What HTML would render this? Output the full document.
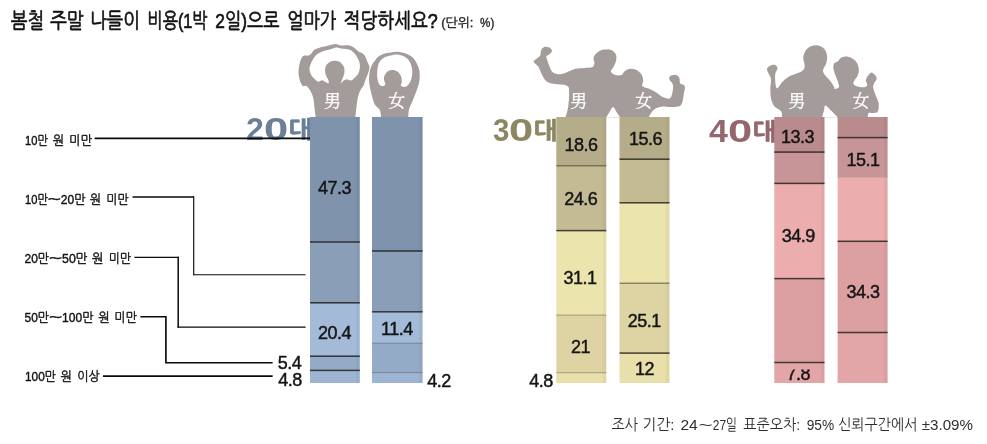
<!DOCTYPE html>
<html lang="ko"><head><meta charset="utf-8"><title>봄철 주말 나들이 비용</title>
<style>
html,body{margin:0;padding:0;background:#fff;}
body{width:987px;height:444px;overflow:hidden;position:relative;font-family:"Liberation Sans","NanumGothic","Noto Sans CJK KR",sans-serif;}
svg{position:absolute;left:0;top:0;display:block}
.num{font-family:"Liberation Sans",sans-serif;font-size:18px;fill:#151515;stroke:#151515;stroke-width:0.45px;letter-spacing:-0.5px;}
.mf{font-family:"Liberation Serif","Noto Serif CJK KR","Noto Serif CJK SC",serif;font-size:17px;fill:#fff;stroke:#fff;stroke-width:0.3px;}
.age{position:absolute;height:36px;width:70px;font-weight:bold;font-size:32px;line-height:36px;white-space:nowrap}
.age span{position:absolute;top:0;left:0;display:block;transform-origin:0 50%;}
.age .o{transform:scaleX(1.36);}
.age .k{top:1px;font-size:23.5px;font-weight:800;-webkit-text-stroke:0.4px currentColor;transform:scaleX(1.07);font-family:"Liberation Sans","NanumGothic","Noto Sans CJK KR",sans-serif;}
</style></head><body>
<div class="age" style="left:246.0px;top:110.5px;color:#6b7f97"><span class="d" style="transform:scaleX(1.00)">2</span><span class="o" style="left:17.6px">0</span><span class="k" style="left:43.0px">대</span></div>
<div class="age" style="left:492.5px;top:112.0px;color:#8b8762"><span class="d" style="transform:scaleX(0.92)">3</span><span class="o" style="left:16.0px">0</span><span class="k" style="left:41.5px">대</span></div>
<div class="age" style="left:709.0px;top:112.8px;color:#93676b"><span class="d" style="transform:scaleX(1.06)">4</span><span class="o" style="left:19.3px">0</span><span class="k" style="left:44.3px">대</span></div>
<svg width="987" height="444" viewBox="0 0 987 444">

<text y="28.3" font-size="21" fill="#111" stroke="#111" stroke-width="0.7" style="font-family:'Liberation Sans','NanumGothic','Noto Sans CJK KR',sans-serif"><tspan x="10.8" textLength="33.4" lengthAdjust="spacingAndGlyphs">봄철</tspan> <tspan x="49.9" textLength="33.8" lengthAdjust="spacingAndGlyphs">주말</tspan> <tspan x="89.9" textLength="50.0" lengthAdjust="spacingAndGlyphs">나들이</tspan> <tspan x="147.4" textLength="60.2" lengthAdjust="spacingAndGlyphs">비용(1박</tspan> <tspan x="215.3" textLength="64.2" lengthAdjust="spacingAndGlyphs">2일)으로</tspan> <tspan x="287.2" textLength="49.0" lengthAdjust="spacingAndGlyphs">얼마가</tspan> <tspan x="343.6" textLength="94.2" lengthAdjust="spacingAndGlyphs">적당하세요?</tspan></text>
<text y="26.7" font-size="12.5" fill="#222" stroke="#222" stroke-width="0.35" style="font-family:'Liberation Sans','NanumGothic','Noto Sans CJK KR',sans-serif"><tspan x="441.2" textLength="32.2" lengthAdjust="spacingAndGlyphs">(단위:</tspan> <tspan x="480.1" textLength="14.2" lengthAdjust="spacingAndGlyphs">%)</tspan></text>
<g fill="#a39c9a" stroke="none">
<path fill-rule="evenodd" d="M315.7,117.5 C315.5,115.9 314.9,111.1 314.5,108.0 C314.1,104.9 314.1,101.7 313.5,99.0 C312.9,96.3 312.2,94.2 311.0,92.0 C309.8,89.8 307.9,87.0 306.5,86.0 C305.1,85.0 303.9,86.9 302.8,86.0 C301.7,85.1 300.6,82.7 299.9,80.5 C299.2,78.3 298.6,75.3 298.5,72.7 C298.4,70.1 298.9,67.2 299.4,64.8 C299.9,62.3 300.8,59.5 301.6,58.0 C302.4,56.5 303.3,56.0 304.4,55.6 C305.5,55.2 307.2,56.0 308.4,55.6 C309.6,55.2 310.9,53.9 311.8,53.0 C312.7,52.1 312.5,51.1 314.0,50.1 C315.5,49.1 318.4,48.1 320.8,47.3 C323.2,46.5 326.3,46.0 328.7,45.4 C331.1,44.8 333.3,43.9 335.4,43.9 C337.5,43.9 339.0,45.1 341.3,45.4 C343.6,45.6 347.1,45.1 349.1,45.4 C351.2,45.7 352.1,46.3 353.6,47.3 C355.1,48.3 356.7,50.3 358.2,51.3 C359.7,52.3 361.5,52.6 362.7,53.5 C363.9,54.4 364.7,55.4 365.5,56.9 C366.3,58.4 367.1,60.8 367.7,62.5 C368.3,64.2 369.3,65.3 369.4,67.0 C369.5,68.7 368.9,70.8 368.3,72.7 C367.7,74.6 366.8,76.2 366.0,78.3 C365.2,80.3 364.7,83.0 363.8,85.0 C362.9,87.0 361.5,88.0 360.5,90.0 C359.5,92.0 358.7,94.2 358.0,97.0 C357.3,99.8 356.9,103.6 356.5,107.0 C356.1,110.4 355.6,115.8 355.4,117.5Z M336.5,47.6 C334.4,47.7 332.1,49.0 329.8,49.6 C327.6,50.2 325.1,50.5 323.0,51.3 C320.9,52.0 319.0,52.9 317.4,54.1 C315.8,55.3 314.6,56.9 313.5,58.6 C312.4,60.3 311.3,62.4 310.6,64.2 C309.9,66.0 309.4,67.5 309.5,69.3 C309.6,71.1 310.3,73.3 311.2,74.9 C312.1,76.5 313.4,77.8 314.6,78.9 C315.8,80.0 317.3,81.5 318.5,81.7 C319.7,81.9 320.7,80.2 321.9,80.3 C323.1,80.4 324.7,81.7 325.8,82.2 C326.9,82.7 328.3,83.7 328.7,83.2 C329.1,82.7 328.6,80.8 328.1,79.4 C327.6,78.0 326.3,76.6 325.8,74.9 C325.3,73.2 324.9,71.1 325.1,69.3 C325.3,67.5 326.0,65.5 327.0,64.2 C328.0,62.9 329.5,62.0 330.9,61.4 C332.3,60.8 333.8,60.6 335.4,60.8 C337.0,61.0 339.1,61.5 340.5,62.5 C341.9,63.5 343.2,65.3 343.9,67.0 C344.5,68.7 344.6,70.8 344.4,72.7 C344.2,74.6 343.3,76.5 342.7,78.3 C342.1,80.0 340.6,82.8 340.7,83.2 C340.8,83.6 342.5,81.5 343.5,80.8 C344.5,80.1 345.7,79.2 346.9,79.2 C348.1,79.2 349.6,80.7 350.8,80.5 C352.0,80.3 353.0,79.4 354.2,78.3 C355.4,77.2 357.3,75.5 358.2,73.8 C359.1,72.1 359.6,70.1 359.8,68.2 C360.0,66.3 360.0,64.4 359.5,62.5 C359.0,60.6 358.0,58.6 357.0,56.9 C356.0,55.2 354.9,53.6 353.6,52.4 C352.3,51.2 351.0,50.2 349.1,49.6 C347.2,49.0 344.5,49.1 342.4,48.8 C340.3,48.5 338.6,47.5 336.5,47.6Z"/>
<path fill-rule="evenodd" d="M381.1,117.5 C380.9,116.2 380.8,112.1 379.8,110.0 C378.8,107.9 376.3,107.0 375.1,105.0 C373.9,103.0 373.2,100.3 372.4,97.7 C371.6,95.1 370.9,92.3 370.4,89.6 C369.8,86.9 369.2,84.4 369.1,81.5 C369.0,78.6 369.2,74.7 369.7,72.0 C370.1,69.3 370.9,67.2 371.8,65.3 C372.7,63.4 374.0,62.0 375.1,60.5 C376.2,59.0 377.0,57.6 378.5,56.5 C380.0,55.4 381.9,54.5 383.9,53.8 C385.9,53.1 388.4,52.7 390.7,52.4 C392.9,52.1 395.1,51.7 397.4,51.8 C399.6,51.9 402.0,52.4 404.2,53.1 C406.4,53.8 408.6,54.8 410.3,55.8 C412.0,56.8 413.2,57.9 414.3,59.2 C415.4,60.6 416.2,62.2 417.0,63.9 C417.8,65.6 418.7,67.3 419.1,69.3 C419.6,71.3 419.7,73.8 419.7,76.1 C419.7,78.3 419.6,80.5 419.1,82.8 C418.7,85.0 417.8,87.3 417.0,89.6 C416.2,91.9 415.2,94.2 414.3,96.4 C413.4,98.7 412.5,100.9 411.6,103.1 C410.7,105.3 409.6,107.1 409.0,109.5 C408.4,111.9 408.3,116.2 408.2,117.5Z M397.4,54.5 C395.1,54.3 392.8,55.0 390.7,55.5 C388.6,56.0 386.3,56.4 384.6,57.2 C382.9,58.0 381.6,59.1 380.5,60.5 C379.4,61.9 378.8,63.4 378.2,65.3 C377.6,67.2 377.3,69.8 377.2,72.0 C377.1,74.2 377.1,76.8 377.4,78.8 C377.7,80.8 378.3,83.0 379.2,84.2 C380.1,85.4 381.6,86.2 382.6,86.2 C383.6,86.2 385.1,85.4 385.3,84.2 C385.5,83.0 383.9,80.5 383.9,78.8 C383.9,77.1 384.5,75.4 385.3,74.1 C386.1,72.8 387.2,71.4 388.6,70.7 C390.0,70.0 391.8,69.8 393.4,70.0 C395.0,70.2 396.8,70.9 398.1,72.0 C399.4,73.1 400.6,75.1 401.2,76.8 C401.8,78.5 401.9,80.8 401.8,82.2 C401.7,83.7 400.4,84.7 400.8,85.5 C401.2,86.3 403.0,87.0 404.2,86.9 C405.4,86.8 407.1,86.0 408.2,84.9 C409.3,83.8 410.2,82.0 410.9,80.1 C411.6,78.2 412.2,75.7 412.3,73.4 C412.4,71.2 412.2,68.8 411.6,66.6 C411.0,64.4 410.1,62.2 408.9,60.5 C407.7,58.8 406.1,57.5 404.2,56.5 C402.3,55.5 399.6,54.7 397.4,54.5Z"/>
<path d="M565.5,117.5 C566.0,115.7 567.6,110.9 568.2,106.7 C568.8,102.5 569.3,95.7 569.1,92.3 C569.0,88.8 569.6,87.3 567.3,85.9 C565.1,84.6 559.1,84.9 555.6,84.1 C552.2,83.4 548.9,82.9 546.6,81.4 C544.4,79.9 543.5,77.5 542.1,75.1 C540.8,72.7 539.9,69.3 538.5,67.0 C537.1,64.8 533.8,63.1 533.6,61.6 C533.5,60.1 536.5,59.1 537.6,58.0 C538.7,57.0 539.7,56.7 540.3,55.3 C540.9,54.0 540.5,51.3 541.2,49.9 C542.0,48.5 543.5,47.2 544.8,46.8 C546.2,46.5 548.1,46.9 549.3,47.6 C550.5,48.2 552.0,49.7 552.0,50.8 C552.0,52.0 550.3,53.5 549.3,54.4 C548.4,55.4 546.4,55.1 546.3,56.6 C546.1,58.1 547.5,60.9 548.4,63.4 C549.4,65.9 550.4,69.7 552.0,71.5 C553.7,73.3 555.9,74.1 558.3,74.2 C560.7,74.4 563.6,73.3 566.4,72.4 C569.3,71.5 572.4,69.6 575.5,68.8 C578.5,68.1 581.6,68.2 584.5,67.9 C587.3,67.6 590.9,67.9 592.6,67.0 C594.2,66.1 594.2,64.0 594.4,62.5 C594.5,61.0 593.2,59.5 593.5,58.0 C593.8,56.5 594.8,54.9 596.2,53.5 C597.5,52.2 599.5,50.6 601.6,49.9 C603.7,49.2 607.8,49.5 608.8,49.4 C609.7,49.2 606.6,48.8 607.2,49.0 C607.8,49.2 611.1,49.8 612.6,50.8 C614.1,51.9 615.7,53.5 616.2,55.3 C616.8,57.1 616.3,59.7 615.9,61.6 C615.4,63.6 614.4,65.4 613.5,67.0 C612.7,68.7 610.5,70.2 610.8,71.5 C611.1,72.9 613.5,74.5 615.3,75.1 C617.1,75.7 620.1,75.7 621.6,75.1 C623.1,74.5 623.0,72.6 624.3,71.5 C625.7,70.5 627.8,69.1 629.7,68.8 C631.7,68.5 634.1,68.8 636.0,69.7 C638.0,70.6 640.2,72.4 641.4,74.2 C642.6,76.0 643.1,78.6 643.2,80.5 C643.4,82.5 641.4,84.6 642.3,85.9 C643.2,87.3 646.4,87.6 648.6,88.6 C650.9,89.7 653.6,90.9 655.9,92.3 C658.1,93.6 659.9,95.7 662.2,96.8 C664.4,97.8 667.7,99.0 669.4,98.6 C671.0,98.1 671.5,96.3 672.1,94.1 C672.7,91.8 673.4,87.4 673.0,85.0 C672.5,82.6 669.8,81.1 669.4,79.6 C668.9,78.1 669.2,76.8 670.3,76.0 C671.3,75.3 674.2,74.8 675.7,75.1 C677.2,75.4 678.5,76.5 679.3,77.8 C680.0,79.2 679.3,81.9 680.2,83.2 C681.1,84.6 684.1,84.1 684.7,85.9 C685.3,87.7 684.4,90.9 683.8,94.1 C683.2,97.2 683.0,102.7 681.1,104.9 C679.1,107.0 675.4,106.7 672.1,107.0 C668.8,107.3 664.3,106.3 661.3,106.7 C658.3,107.1 655.9,108.2 654.1,109.4 C652.3,110.6 651.4,112.5 650.5,113.9 C649.5,115.2 648.9,116.9 648.6,117.5Z"/>
<path d="M606.2,117.5 C606.8,116.6 608.4,113.8 609.5,112.0 C610.6,110.2 611.9,107.0 613.1,107.0 C614.3,107.0 615.3,110.2 616.5,112.0 C617.7,113.8 619.7,116.6 620.3,117.5Z" fill="#fff"/>
<path d="M782.0,117.5 C781.9,116.4 782.3,113.0 781.1,111.2 C779.9,109.4 776.5,108.6 774.8,106.7 C773.2,104.7 772.0,102.5 771.2,99.5 C770.5,96.5 770.4,92.1 770.3,88.6 C770.3,85.2 771.3,81.6 770.9,78.7 C770.4,75.9 768.2,73.3 767.6,71.5 C767.0,69.7 766.7,69.0 767.3,67.9 C767.9,66.9 769.8,65.7 771.2,65.2 C772.6,64.8 774.7,64.6 775.7,65.2 C776.8,65.8 777.6,67.3 777.5,68.8 C777.4,70.3 775.5,71.5 775.2,74.2 C774.9,76.9 775.3,82.7 775.7,85.0 C776.1,87.4 776.5,88.7 777.5,88.3 C778.6,87.8 780.2,84.2 782.0,82.3 C783.8,80.5 785.8,78.4 788.3,76.9 C790.9,75.4 794.8,74.5 797.3,73.3 C799.9,72.1 802.4,71.2 803.6,69.7 C804.8,68.2 804.6,66.3 804.5,64.3 C804.5,62.4 803.1,60.3 803.3,58.0 C803.4,55.8 804.2,52.8 805.5,50.8 C806.7,48.9 808.8,47.2 810.9,46.3 C813.0,45.4 815.8,45.0 818.1,45.4 C820.3,45.9 822.9,47.2 824.4,49.0 C825.9,50.8 826.8,53.8 827.1,56.2 C827.4,58.6 826.8,61.2 826.2,63.4 C825.5,65.7 823.4,67.9 823.1,69.7 C822.8,71.5 823.1,72.3 824.4,74.2 C825.6,76.2 829.0,79.3 830.7,81.4 C832.3,83.6 833.7,85.9 834.3,87.2 C834.9,88.5 833.6,89.0 834.4,89.0 C835.2,89.0 838.3,88.3 838.9,87.2 C839.5,86.1 838.6,84.4 838.0,82.3 C837.4,80.3 836.1,77.4 835.3,75.1 C834.6,72.9 833.7,70.8 833.5,68.8 C833.3,66.9 833.3,64.7 834.1,63.4 C834.8,62.2 836.9,62.2 838.0,61.3 C839.1,60.4 839.4,58.8 840.7,58.0 C842.1,57.2 844.3,56.6 846.1,56.6 C847.9,56.6 849.9,57.2 851.5,58.0 C853.2,58.9 854.8,60.0 856.0,61.6 C857.2,63.3 858.4,65.8 858.7,67.9 C859.1,70.0 858.8,72.3 858.2,74.2 C857.6,76.2 855.9,78.1 855.1,79.6 C854.3,81.1 853.2,82.2 853.3,83.2 C853.5,84.3 854.2,85.3 856.0,85.9 C857.8,86.6 862.3,87.4 864.1,87.2 C866.0,87.1 866.9,86.2 867.2,85.0 C867.5,83.9 865.9,82.0 865.9,80.5 C866.0,79.0 866.8,77.4 867.7,76.0 C868.6,74.7 870.2,72.6 871.4,72.4 C872.6,72.3 874.1,74.1 875.0,75.1 C875.9,76.2 876.9,77.4 876.8,78.7 C876.6,80.1 874.7,81.7 874.1,83.2 C873.5,84.7 872.9,85.6 873.2,87.7 C873.5,89.8 875.0,93.3 875.9,95.9 C876.8,98.4 878.2,100.5 878.6,103.1 C878.9,105.6 878.8,109.5 878.0,111.2 C877.3,112.8 875.6,112.7 874.1,113.0 C872.5,113.3 869.7,112.2 868.6,113.0 C867.6,113.7 867.9,116.7 867.7,117.5Z"/>
<path d="M822.0,117.5 C822.3,116.4 823.2,113.0 823.8,111.0 C824.4,109.0 824.2,105.5 825.4,105.4 C826.6,105.3 828.9,108.5 831.0,110.5 C833.1,112.5 836.7,116.3 837.8,117.5Z" fill="#fff"/>
</g>
<path d="M95.5,138.4 H310" fill="none" stroke="#0a0a0a" stroke-width="1.7" stroke-linecap="square"/>
<path d="M133.3,196.9 H193.2" fill="none" stroke="#0a0a0a" stroke-width="1.5" stroke-linecap="square"/>
<path d="M193.7,196.9 V274.7" fill="none" stroke="#0a0a0a" stroke-width="1.15" stroke-linecap="square"/>
<path d="M193.7,274.7 H305" fill="none" stroke="#0a0a0a" stroke-width="1.15" stroke-linecap="square"/>
<path d="M135,257.3 H178.2" fill="none" stroke="#0a0a0a" stroke-width="1.15" stroke-linecap="square"/>
<path d="M178.2,257.5 V327" fill="none" stroke="#0a0a0a" stroke-width="1.5" stroke-linecap="square"/>
<path d="M178.2,327.1 H305" fill="none" stroke="#0a0a0a" stroke-width="1.25" stroke-linecap="square"/>
<path d="M141.2,316.7 H165.9 V362.7 H271.8" fill="none" stroke="#0a0a0a" stroke-width="1.65" stroke-linecap="square"/>
<path d="M103.8,376.1 H271.8" fill="none" stroke="#0a0a0a" stroke-width="1.65" stroke-linecap="square"/>
<rect x="310.0" y="117.0" width="49.8" height="125.0" fill="#7f93ad"/>
<rect x="310.0" y="242.0" width="49.8" height="61.0" fill="#8a9eb8"/>
<rect x="310.0" y="303.0" width="49.8" height="53.0" fill="#a3bbd9"/>
<rect x="310.0" y="356.0" width="49.8" height="14.5" fill="#94abc8"/>
<rect x="310.0" y="370.5" width="49.8" height="12.5" fill="#9db4d2"/>
<rect x="356.2" y="117.0" width="3.6" height="266.0" fill="#000" fill-opacity="0.035"/>
<rect x="310.0" y="241.25" width="49.8" height="1.50" fill="#1a1612" fill-opacity="0.80"/>
<rect x="310.0" y="302.05" width="49.8" height="1.50" fill="#1a1612" fill-opacity="0.80"/>
<rect x="310.0" y="355.45" width="49.8" height="1.50" fill="#1a1612" fill-opacity="0.80"/>
<rect x="310.0" y="369.65" width="49.8" height="1.50" fill="#1a1612" fill-opacity="0.80"/>
<rect x="372.0" y="117.0" width="50.6" height="134.0" fill="#7f93ad"/>
<rect x="372.0" y="251.0" width="50.6" height="60.8" fill="#8a9eb8"/>
<rect x="372.0" y="311.8" width="50.6" height="31.4" fill="#a3bbd9"/>
<rect x="372.0" y="343.2" width="50.6" height="29.4" fill="#94abc8"/>
<rect x="372.0" y="372.6" width="50.6" height="10.4" fill="#9db4d2"/>
<rect x="419.0" y="117.0" width="3.6" height="266.0" fill="#000" fill-opacity="0.035"/>
<rect x="372.0" y="250.25" width="50.6" height="1.50" fill="#1a1612" fill-opacity="0.80"/>
<rect x="372.0" y="311.05" width="50.6" height="1.50" fill="#1a1612" fill-opacity="0.80"/>
<rect x="372.0" y="342.75" width="50.6" height="0.90" fill="#1a1612" fill-opacity="0.38"/>
<rect x="372.0" y="372.15" width="50.6" height="0.90" fill="#1a1612" fill-opacity="0.38"/>
<rect x="556.3" y="117.0" width="50.0" height="48.8" fill="#b5ad8a"/>
<rect x="556.3" y="165.8" width="50.0" height="64.8" fill="#c4bb95"/>
<rect x="556.3" y="230.6" width="50.0" height="84.5" fill="#ece4ad"/>
<rect x="556.3" y="315.1" width="50.0" height="57.6" fill="#ded4a3"/>
<rect x="556.3" y="372.7" width="50.0" height="10.3" fill="#e8dfab"/>
<rect x="602.7" y="117.0" width="3.6" height="266.0" fill="#000" fill-opacity="0.035"/>
<rect x="556.3" y="165.25" width="50.0" height="1.10" fill="#1a1612" fill-opacity="0.60"/>
<rect x="556.3" y="229.85" width="50.0" height="1.50" fill="#1a1612" fill-opacity="0.80"/>
<rect x="556.3" y="314.65" width="50.0" height="0.90" fill="#1a1612" fill-opacity="0.38"/>
<rect x="556.3" y="372.25" width="50.0" height="0.90" fill="#1a1612" fill-opacity="0.38"/>
<rect x="619.5" y="117.0" width="50.0" height="42.2" fill="#b5ad8a"/>
<rect x="619.5" y="159.2" width="50.0" height="43.6" fill="#c4bb95"/>
<rect x="619.5" y="202.8" width="50.0" height="80.4" fill="#ece4ad"/>
<rect x="619.5" y="283.2" width="50.0" height="69.9" fill="#ded4a3"/>
<rect x="619.5" y="353.1" width="50.0" height="29.9" fill="#e8dfab"/>
<rect x="665.9" y="117.0" width="3.6" height="266.0" fill="#000" fill-opacity="0.035"/>
<rect x="619.5" y="158.45" width="50.0" height="1.50" fill="#1a1612" fill-opacity="0.80"/>
<rect x="619.5" y="202.05" width="50.0" height="1.50" fill="#1a1612" fill-opacity="0.80"/>
<rect x="619.5" y="282.65" width="50.0" height="1.10" fill="#1a1612" fill-opacity="0.60"/>
<rect x="619.5" y="352.35" width="50.0" height="1.50" fill="#1a1612" fill-opacity="0.80"/>
<rect x="774.3" y="117.0" width="50.2" height="35.1" fill="#b98b8d"/>
<rect x="774.3" y="152.1" width="50.2" height="31.3" fill="#c79597"/>
<rect x="774.3" y="183.4" width="50.2" height="95.2" fill="#ebadae"/>
<rect x="774.3" y="278.6" width="50.2" height="83.9" fill="#dca0a3"/>
<rect x="774.3" y="362.5" width="50.2" height="20.5" fill="#e2a5a8"/>
<rect x="820.9" y="117.0" width="3.6" height="266.0" fill="#000" fill-opacity="0.035"/>
<rect x="774.3" y="151.35" width="50.2" height="1.50" fill="#1a1612" fill-opacity="0.80"/>
<rect x="774.3" y="182.65" width="50.2" height="1.50" fill="#1a1612" fill-opacity="0.80"/>
<rect x="774.3" y="277.85" width="50.2" height="1.50" fill="#1a1612" fill-opacity="0.80"/>
<rect x="774.3" y="361.75" width="50.2" height="1.50" fill="#1a1612" fill-opacity="0.80"/>
<rect x="837.6" y="117.0" width="50.0" height="20.6" fill="#b98b8d"/>
<rect x="837.6" y="137.6" width="50.0" height="39.9" fill="#c79597"/>
<rect x="837.6" y="177.5" width="50.0" height="63.8" fill="#ebadae"/>
<rect x="837.6" y="241.3" width="50.0" height="91.2" fill="#dca0a3"/>
<rect x="837.6" y="332.5" width="50.0" height="50.5" fill="#e2a5a8"/>
<rect x="884.0" y="117.0" width="3.6" height="266.0" fill="#000" fill-opacity="0.035"/>
<rect x="837.6" y="136.85" width="50.0" height="1.50" fill="#1a1612" fill-opacity="0.80"/>
<rect x="837.6" y="177.10" width="50.0" height="0.80" fill="#1a1612" fill-opacity="0.15"/>
<rect x="837.6" y="240.55" width="50.0" height="1.50" fill="#1a1612" fill-opacity="0.80"/>
<rect x="837.6" y="331.75" width="50.0" height="1.50" fill="#1a1612" fill-opacity="0.80"/>
<text class="num" x="334.4" y="194.0" text-anchor="middle">47.3</text>
<text class="num" x="334.4" y="338.6" text-anchor="middle">20.4</text>
<text class="num" x="396.9" y="334.8" text-anchor="middle">11.4</text>
<text class="num" x="289.4" y="369.4" text-anchor="middle">5.4</text>
<text class="num" x="289.9" y="386.0" text-anchor="middle">4.8</text>
<text class="num" x="438.9" y="387.2" text-anchor="middle">4.2</text>
<text class="num" x="580.9" y="150.8" text-anchor="middle">18.6</text>
<text class="num" x="645.4" y="145.3" text-anchor="middle">15.6</text>
<text class="num" x="580.8" y="205.0" text-anchor="middle">24.6</text>
<text class="num" x="580.1" y="283.6" text-anchor="middle">31.1</text>
<text class="num" x="580.5" y="352.8" text-anchor="middle">21</text>
<text class="num" x="644.3" y="327.1" text-anchor="middle">25.1</text>
<text class="num" x="644.4" y="375.1" text-anchor="middle">12</text>
<text class="num" x="541.0" y="386.6" text-anchor="middle">4.8</text>
<text class="num" x="797.5" y="142.5" text-anchor="middle">13.3</text>
<text class="num" x="862.9" y="165.7" text-anchor="middle">15.1</text>
<text class="num" x="798.2" y="241.7" text-anchor="middle">34.9</text>
<text class="num" x="863.0" y="298.3" text-anchor="middle">34.3</text>
<clipPath id="c78"><rect x="775" y="369.6" width="50" height="14"/></clipPath>
<text class="num" x="798.2" y="380.4" text-anchor="middle" clip-path="url(#c78)">7.8</text>
<text class="mf" x="332.5" y="106.8" text-anchor="middle">男</text>
<text class="mf" x="396.7" y="106.8" text-anchor="middle">女</text>
<text class="mf" x="578.8" y="106.8" text-anchor="middle">男</text>
<text class="mf" x="643.7" y="106.8" text-anchor="middle">女</text>
<text class="mf" x="796.9" y="107.0" text-anchor="middle">男</text>
<text class="mf" x="861.0" y="106.8" text-anchor="middle">女</text>
<text y="145.0" font-size="13" fill="#111" stroke="#111" stroke-width="0.4" style="font-family:'Liberation Sans','NanumGothic','Noto Sans CJK KR',sans-serif"><tspan x="25.0" textLength="22.9" lengthAdjust="spacingAndGlyphs">10만</tspan> <tspan x="52.9" textLength="11.4" lengthAdjust="spacingAndGlyphs">원</tspan> <tspan x="69.3" textLength="22.9" lengthAdjust="spacingAndGlyphs">미만</tspan></text>
<text y="204.0" font-size="13" fill="#111" stroke="#111" stroke-width="0.4" style="font-family:'Liberation Sans','NanumGothic','Noto Sans CJK KR',sans-serif"><tspan x="25.0" textLength="22.9" lengthAdjust="spacingAndGlyphs">10만</tspan><tspan x="47.8" font-size="15.5" textLength="13.2" lengthAdjust="spacingAndGlyphs">~</tspan><tspan x="60.8" textLength="24.7" lengthAdjust="spacingAndGlyphs">20만</tspan> <tspan x="90.0" textLength="11.4" lengthAdjust="spacingAndGlyphs">원</tspan> <tspan x="106.4" textLength="22.3" lengthAdjust="spacingAndGlyphs">미만</tspan></text>
<text y="262.5" font-size="13" fill="#111" stroke="#111" stroke-width="0.4" style="font-family:'Liberation Sans','NanumGothic','Noto Sans CJK KR',sans-serif"><tspan x="24.6" textLength="24.5" lengthAdjust="spacingAndGlyphs">20만</tspan><tspan x="49.0" font-size="15.5" textLength="13.2" lengthAdjust="spacingAndGlyphs">~</tspan><tspan x="62.1" textLength="25.3" lengthAdjust="spacingAndGlyphs">50만</tspan> <tspan x="92.1" textLength="11.7" lengthAdjust="spacingAndGlyphs">원</tspan> <tspan x="108.9" textLength="22.2" lengthAdjust="spacingAndGlyphs">미만</tspan></text>
<text y="322.0" font-size="13" fill="#111" stroke="#111" stroke-width="0.4" style="font-family:'Liberation Sans','NanumGothic','Noto Sans CJK KR',sans-serif"><tspan x="24.6" textLength="24.5" lengthAdjust="spacingAndGlyphs">50만</tspan><tspan x="49.0" font-size="15.5" textLength="13.2" lengthAdjust="spacingAndGlyphs">~</tspan><tspan x="62.1" textLength="31.4" lengthAdjust="spacingAndGlyphs">100만</tspan> <tspan x="98.5" textLength="11.4" lengthAdjust="spacingAndGlyphs">원</tspan> <tspan x="114.6" textLength="22.4" lengthAdjust="spacingAndGlyphs">미만</tspan></text>
<text y="381.0" font-size="13" fill="#111" stroke="#111" stroke-width="0.4" style="font-family:'Liberation Sans','NanumGothic','Noto Sans CJK KR',sans-serif"><tspan x="25.0" textLength="30.8" lengthAdjust="spacingAndGlyphs">100만</tspan> <tspan x="60.8" textLength="11.4" lengthAdjust="spacingAndGlyphs">원</tspan> <tspan x="77.3" textLength="22.2" lengthAdjust="spacingAndGlyphs">이상</tspan></text>
<text y="430.3" font-size="15.5" fill="#2e2e2e" style="font-family:'Liberation Sans','NanumGothic','Noto Sans CJK KR',sans-serif"><tspan x="611.5" textLength="26.5" lengthAdjust="spacingAndGlyphs">조사</tspan> <tspan x="642.5" textLength="32.0" lengthAdjust="spacingAndGlyphs">기간:</tspan> <tspan x="680.4" textLength="17.4" lengthAdjust="spacingAndGlyphs">24</tspan><tspan x="698.4" font-size="15.5" textLength="14.2" lengthAdjust="spacingAndGlyphs">~</tspan><tspan x="712.8" textLength="24.5" lengthAdjust="spacingAndGlyphs">27일</tspan> <tspan x="743.2" textLength="56.9" lengthAdjust="spacingAndGlyphs">표준오차:</tspan> <tspan x="806.7" textLength="27.5" lengthAdjust="spacingAndGlyphs">95%</tspan> <tspan x="838.1" textLength="79.2" lengthAdjust="spacingAndGlyphs">신뢰구간에서</tspan> <tspan x="921.8" textLength="51.2" lengthAdjust="spacingAndGlyphs">±3.09%</tspan></text>
</svg></body></html>
